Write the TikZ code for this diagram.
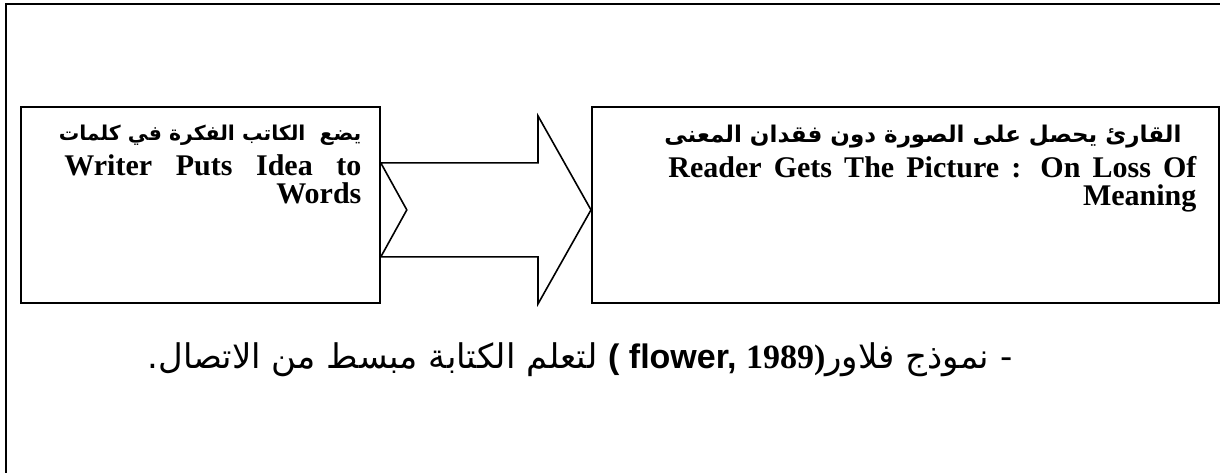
\documentclass[tikz,border=0pt]{standalone}
\usepackage{fontspec}
\setmainfont{Liberation Serif}
\newfontfamily\arabicfont[Script=Arabic]{DejaVu Sans}
\newfontfamily\sansfont{Liberation Sans}
\TeXXeTstate=1
\usetikzlibrary{positioning,calc}

\begin{document}
\begin{tikzpicture}[x=0.5pt, y=-0.5pt,
    box/.style={rectangle, draw, line width=0.9pt, inner sep=0pt, anchor=north west, minimum height=98pt},
    boxtext/.style={anchor=north east, align=right, inner sep=0pt, font=\bfseries\fontsize{15}{14}\selectfont},
    flow/.style={draw, line width=0.8pt, fill=white},
    caption/.style={anchor=base, inner sep=0pt, font=\fontsize{17}{20}\selectfont}]

    \useasboundingbox (0,0) rectangle (1220,472);
    \clip (0,0) rectangle (1220,472);

    % Frame (runs off the page at right and bottom)
    \draw[line width=1.3pt] (6,490) -- (6,4) -- (1240,4);

    % Writer
    \node[box, minimum width=179.5pt] (writer) at (20,106) {};
    \node[boxtext] (writertext) at ([xshift=-9.5pt, yshift=-9.5pt]writer.north east)
        {{\arabicfont\fontsize{10.2}{14}\selectfont\beginR يضع\ \ الكاتب الفكرة في كلمات\endR}\\[3.5pt]
         \makebox[148.5pt][s]{Writer Puts Idea to}\\Words};

    % Reader
    \node[box, minimum width=313.5pt] (reader) at (591,106) {};
    \node[boxtext] (readertext) at ([xshift=-11.5pt, yshift=-9.5pt]reader.north east)
        {{\arabicfont\fontsize{11.5}{14}\selectfont\beginR القارئ يحصل على الصورة دون فقدان المعنى\endR}\hspace*{7.5pt}\\[3.5pt]
         \makebox[264pt][s]{Reader Gets The Picture : On Loss Of}\\Meaning};

    % Block arrow between the boxes
    \coordinate (tail) at ([yshift=-2.5pt]writer.east);
    \coordinate (tip) at ([yshift=-2.5pt]reader.west);
    \draw[flow] ($(tail)+(0,-47)$) -- ($(tip)+(-53,-47)$) -- ($(tip)+(-53,-94)$) -- (tip)
        -- ($(tip)+(-53,94)$) -- ($(tip)+(-53,47)$) -- ($(tail)+(0,47)$) -- ($(tail)+(26,0)$) -- cycle;

    % Caption
    \node[caption] (model) at (580,368)
        {\arabicfont\beginR - نموذج فلاور\beginL{\sansfont\bfseries( flower, }{\rmfamily\bfseries 1989)}\endL{} لتعلم الكتابة مبسط من الاتصال.\endR};
\end{tikzpicture}
\end{document}
